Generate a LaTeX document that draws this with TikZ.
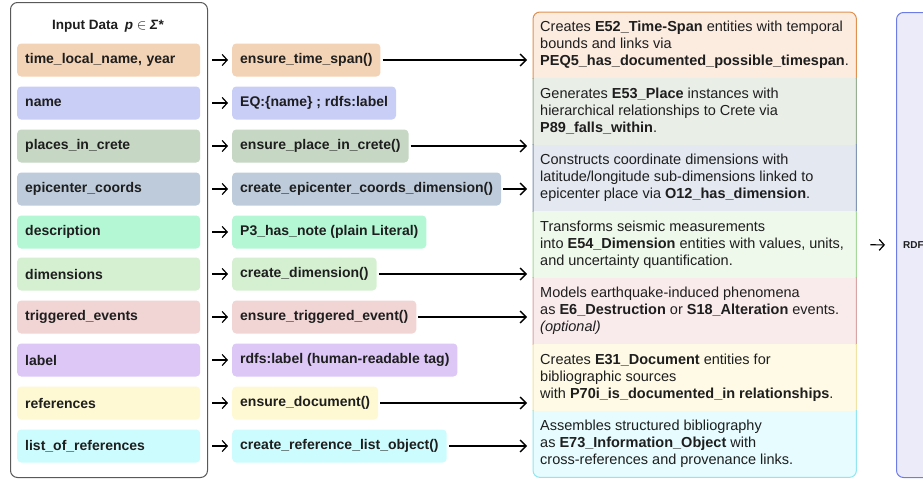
\documentclass[tikz,border=0pt]{standalone}
\usepackage{fontspec}
\setmainfont{Liberation Sans}
\usetikzlibrary{arrows.meta}
\definecolor{cpeach}{HTML}{F3D3B5}
\definecolor{clav}{HTML}{C9CEF7}
\definecolor{csage}{HTML}{C6D7C4}
\definecolor{csteel}{HTML}{BDCBDB}
\definecolor{cmint}{HTML}{B4F7D5}
\definecolor{clgreen}{HTML}{D5EFD1}
\definecolor{cpink}{HTML}{F1D4D4}
\definecolor{cpurple}{HTML}{DCC7F6}
\definecolor{ccream}{HTML}{FEF9D3}
\definecolor{ccyan}{HTML}{CCFCFE}
\definecolor{sAf}{HTML}{FCECE0}\definecolor{sAb}{HTML}{E0904F}
\definecolor{sBf}{HTML}{E9EFE7}\definecolor{sBb}{HTML}{98AE93}
\definecolor{sCf}{HTML}{E3E8F1}\definecolor{sCb}{HTML}{8196B3}
\definecolor{sDf}{HTML}{EEF8EB}\definecolor{sDb}{HTML}{A7D89B}
\definecolor{sEf}{HTML}{F9EBEB}\definecolor{sEb}{HTML}{D9A4A4}
\definecolor{sFf}{HTML}{FEFAE6}\definecolor{sFb}{HTML}{F1E3A3}
\definecolor{sGf}{HTML}{E6FCFE}\definecolor{sGb}{HTML}{91E6EF}
\definecolor{rdff}{HTML}{EBEBFA}
\definecolor{rdfb}{HTML}{6E7CE6}
\definecolor{txt}{HTML}{1E1E1E}
\begin{document}
\begin{tikzpicture}[x=1pt,y=-1pt,
  field/.style={rounded corners=4pt, minimum height=33pt, anchor=west, inner xsep=8pt, inner ysep=0pt,
    font=\fontsize{14}{15}\selectfont\bfseries, text=txt},
  infield/.style={field, text width=167pt, align=left},
  fnode/.style={field},
  sarr/.style={-{Straight Barb[length=5pt,width=11pt]}, line width=1.2pt, shorten <=12pt, shorten >=4pt},
  larr/.style={-{Straight Barb[length=6pt,width=12pt]}, line width=1.3pt, shorten <=2pt, shorten >=6pt},
  desc/.style={anchor=west, inner sep=2pt, align=left, font=\fontsize{14.5}{17}\selectfont, text=txt}
]
\useasboundingbox (0,0) rectangle (923,479);
\clip (0,0) rectangle (923,479);

% input container
\node[draw=black!65, line width=1pt, fill=white, rounded corners=7pt, minimum width=197pt, minimum height=475pt,
  anchor=north west, inner sep=0pt] (inbox) at (10,2) {};
\node[font=\fontsize{13.5}{15}\selectfont\bfseries, text=txt] (title) at (108,26)
  {Input Data\enspace\textit{p} $\in$ \textit{Σ*}};

% input fields
\node[infield, fill=cpeach]   (i1)  at (17,60)  {time\_local\_name, year};
\node[infield, fill=clav]     (i2)  at (17,103) {name};
\node[infield, fill=csage]    (i3)  at (17,146) {places\_in\_crete};
\node[infield, fill=csteel]   (i4)  at (17,189) {epicenter\_coords};
\node[infield, fill=cmint]    (i5)  at (17,232) {description};
\node[infield, fill=clgreen]  (i6)  at (17,274) {dimensions};
\node[infield, fill=cpink]    (i7)  at (17,317) {triggered\_events};
\node[infield, fill=cpurple]  (i8)  at (17,360) {label};
\node[infield, fill=ccream]   (i9)  at (17,403) {references};
\node[infield, fill=ccyan]    (i10) at (17,446) {list\_of\_references};

% function nodes
\node[fnode, fill=cpeach]   (f1)  at (232,60)  {ensure\_time\_span()};
\node[fnode, fill=clav]     (f2)  at (232,103) {EQ:\{name\} ; rdfs:label};
\node[fnode, fill=csage]    (f3)  at (232,146) {ensure\_place\_in\_crete()};
\node[fnode, fill=csteel]   (f4)  at (232,189) {create\_epicenter\_coords\_dimension()};
\node[fnode, fill=cmint]    (f5)  at (232,232) {P3\_has\_note (plain Literal)};
\node[fnode, fill=clgreen]  (f6)  at (232,274) {create\_dimension()};
\node[fnode, fill=cpink]    (f7)  at (232,317) {ensure\_triggered\_event()};
\node[fnode, fill=cpurple]  (f8)  at (232,360) {rdfs:label (human-readable tag)};
\node[fnode, fill=ccream]   (f9)  at (232,403) {ensure\_document()};
\node[fnode, fill=ccyan]    (f10) at (232,446) {create\_reference\_list\_object()};

\foreach \k in {1,...,10} { \draw[sarr] (i\k.east) -- (f\k.west); }

% description panel
\node[minimum width=323pt, minimum height=465pt, anchor=north west, inner sep=0pt] (panel) at (533,12) {};
\begin{scope}
  \clip[rounded corners=7pt] (panel.north west) rectangle (panel.south east);
  \foreach \fc/\ya/\yb in {sAf/12/78.43, sBf/78.43/144.86, sCf/144.86/211.29, sDf/211.29/277.71,
                           sEf/277.71/344.14, sFf/344.14/410.57, sGf/410.57/477} {
    \fill[\fc] (525,\ya) rectangle (865,\yb);
  }
\end{scope}
\foreach \bc/\ya/\yb in {sAb/0/78.43, sBb/78.43/144.86, sCb/144.86/211.29, sDb/211.29/277.71,
                         sEb/277.71/344.14, sFb/344.14/410.57, sGb/410.57/479} {
  \begin{scope}
    \clip (520,\ya) rectangle (870,\yb);
    \draw[\bc, line width=1pt, rounded corners=7pt] (panel.north west) rectangle (panel.south east);
  \end{scope}
}

\node[desc] (d1) at (538,45.2) {Creates \textbf{E52\_Time-Span} entities with temporal\\bounds and links via\\\textbf{PEQ5\_has\_documented\_possible\_timespan}.};
\node[desc] (d2) at (538,111.6) {Generates \textbf{E53\_Place} instances with\\hierarchical relationships to Crete via\\\textbf{P89\_falls\_within}.};
\node[desc] (d3) at (538,178.1) {Constructs coordinate dimensions with\\latitude/longitude sub-dimensions linked to\\epicenter place via \textbf{O12\_has\_dimension}.};
\node[desc] (d4) at (538,244.5) {Transforms seismic measurements\\into \textbf{E54\_Dimension} entities with values, units,\\and uncertainty quantification.};
\node[desc] (d5) at (538,310.9) {Models earthquake-induced phenomena\\as \textbf{E6\_Destruction} or \textbf{S18\_Alteration} events.\\\textit{(optional)}};
\node[desc] (d6) at (538,377.4) {Creates \textbf{E31\_Document} entities for\\bibliographic sources\\with \textbf{P70i\_is\_documented\_in relationships}.};
\node[desc] (d7) at (538,443.8) {Assembles structured bibliography\\as \textbf{E73\_Information\_Object} with\\cross-references and provenance links.};

% long arrows
\foreach \k in {1,3,4,6,7,9,10} { \draw[larr] (f\k.east) -- (f\k.east -| panel.west); }

% RDF box
\node[draw=rdfb, fill=rdff, line width=1pt, rounded corners=7pt, minimum width=100pt, minimum height=465pt,
  anchor=north west, inner sep=0pt] (rdf) at (896,12) {};
\node[anchor=west, inner sep=0pt, font=\fontsize{10}{12}\selectfont\bfseries, text=txt] (rdft) at ([xshift=7pt]rdf.west) {RDF};
\draw[-{Straight Barb[length=5pt,width=11pt]}, line width=1.2pt, shorten <=14pt, shorten >=11pt] (panel.east) -- (rdf.west);
\end{tikzpicture}
\end{document}
